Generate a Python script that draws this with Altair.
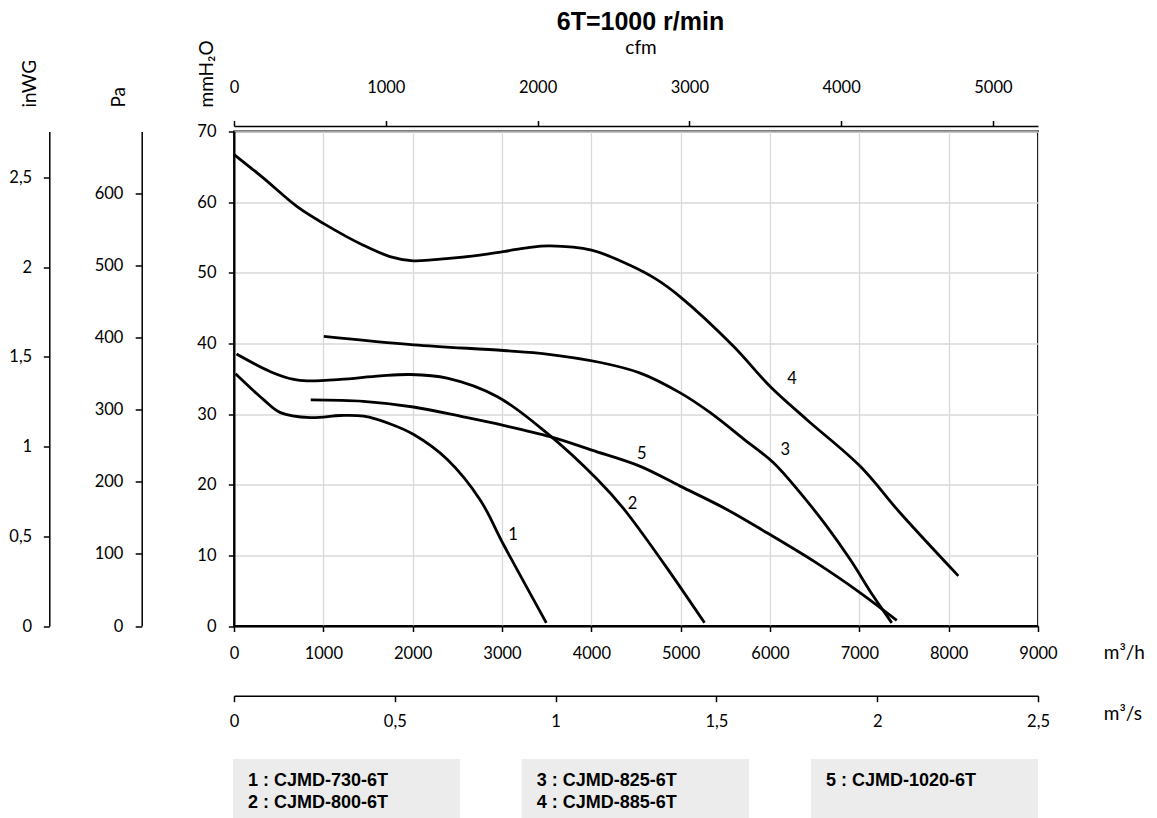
import altair as alt
import pandas as pd

# ---------------- data ----------------
# air flow in m3/h, static pressure in mmH2O
c1_q = [17, 334, 520, 856, 1191, 1452, 1751, 2012, 2385, 2758, 3018, 3496]
c1_p = [35.7, 32.0, 30.2, 29.5, 29.8, 29.7, 28.6, 27.1, 23.6, 17.8, 11.5, 0.45]

c2_q = [28, 408, 669, 819, 1191, 1639, 1974, 2385, 2944, 3504, 4063, 4361, 4808, 5267]
c2_p = [38.5, 36.0, 34.9, 34.7, 34.9, 35.4, 35.6, 35.1, 32.5, 27.3, 20.8, 16.6, 8.9, 0.45]

c3_q = [1005, 2011, 3016, 3501, 4103, 4548, 4995, 5331, 5703, 6039, 6341, 6636, 6898, 7158, 7363]
c3_p = [41.0, 39.8, 39.0, 38.5, 37.3, 35.8, 33.0, 30.2, 26.5, 23.1, 18.8, 14.1, 9.4, 4.2, 0.45]

c4_q = [5, 330, 703, 1000, 1447, 1745, 2006, 2379, 2752, 3013, 3311, 3535, 4002, 4427,
        4725, 4995, 5591, 6002, 6413, 7010, 7458, 8108]
c4_p = [66.7, 63.4, 59.4, 57.0, 53.9, 52.3, 51.7, 52.0, 52.5, 53.0, 53.6, 53.8, 53.2, 51.1,
        49.1, 46.6, 39.6, 33.9, 29.2, 22.6, 16.0, 7.1]

c5_q = [859, 1448, 2008, 2568, 3016, 3539, 4005, 4548, 4995, 5517, 5965, 6524, 7010, 7419]
c5_p = [32.0, 31.8, 31.0, 29.6, 28.4, 26.8, 24.9, 22.6, 19.8, 16.5, 13.2, 8.9, 4.7, 0.8]

curve_ids = ["1", "2", "3", "4", "5"]

# curve number labels (position in data units)
lbl_q = [3123, 4461, 6170, 6248, 4566]
lbl_p = [12.9, 17.2, 24.9, 35.0, 24.35]

# axis tick values
q_ticks = [0, 1000, 2000, 3000, 4000, 5000, 6000, 7000, 8000, 9000]
mm_ticks = [0, 10, 20, 30, 40, 50, 60, 70]
cfm_ticks = [0, 1000, 2000, 3000, 4000, 5000]
m3s_ticks = [0, 0.5, 1, 1.5, 2, 2.5]
pa_ticks = [0, 100, 200, 300, 400, 500, 600]
inwg_ticks = [0, 0.5, 1, 1.5, 2, 2.5]

legend_lines = ["1 : CJMD-730-6T", "2 : CJMD-800-6T", "3 : CJMD-825-6T",
                "4 : CJMD-885-6T", "5 : CJMD-1020-6T"]
legend_groups = [[0, 1], [2, 3], [4]]
title_text = "6T=1000 r/min"

# ranges / unit conversions
Q_MAX = 9000.0            # m3/h
P_MAX = 70.0              # mmH2O
CFM_MAX = Q_MAX * 0.588578
M3S_MAX = Q_MAX / 3600.0
PA_MAX = P_MAX * 9.80665
INWG_MAX = P_MAX / 25.4

# ---------------- layout ----------------
W, H = 804, 494.5
FONT = "Lato"
LFONT = "Liberation Sans"
NUM_EXPR = "replace(toString(datum.value), '.', ',')"

rows = []
for cid, qs, ps in zip(curve_ids, [c1_q, c2_q, c3_q, c4_q, c5_q], [c1_p, c2_p, c3_p, c4_p, c5_p]):
    for q, p in zip(qs, ps):
        rows.append({"curve": cid, "q": q, "p": p})
curves = pd.DataFrame(rows)
labels = pd.DataFrame({"lq": lbl_q, "lp": lbl_p, "name": curve_ids})


def xs():
    return alt.Scale(domain=[0, Q_MAX], nice=False, zero=False)


def ys():
    return alt.Scale(domain=[0, P_MAX], nice=False, zero=False)


lines = alt.Chart(curves).mark_line(
    color="black", strokeWidth=2.8, interpolate="catmull-rom"
).encode(
    x=alt.X("q:Q", scale=xs(), axis=alt.Axis(
        orient="bottom", values=q_ticks, format="d", grid=True,
        gridColor="#d9d9d9", gridWidth=1.3, domainWidth=2, tickSize=5.5,
        tickWidth=1.5, labelPadding=26.8, labelBaseline="alphabetic",
        title="m³/h", titleX=869.3, titleY=32, titleAlign="left",
        titleBaseline="alphabetic")),
    y=alt.Y("p:Q", scale=ys(), axis=alt.Axis(
        orient="left", values=mm_ticks, grid=True, gridColor="#d9d9d9",
        gridWidth=1.3, domainWidth=2, tickSize=5.7, tickWidth=1.5,
        labelPadding=12.3, title="mmH₂O", titleAngle=270, titleX=-22,
        titleY=-24.5, titleAlign="left", titleBaseline="alphabetic")),
    detail="curve:N",
)

curve_labels = alt.Chart(labels).mark_text(
    font=FONT, fontSize=16.5, color="black"
).encode(
    x=alt.X("lq:Q", scale=xs(), axis=None),
    y=alt.Y("lp:Q", scale=ys(), axis=None),
    text="name:N",
)

cfm_layer = alt.Chart(pd.DataFrame({"cfm": [0, CFM_MAX]})).mark_point(opacity=0).encode(
    x=alt.X("cfm:Q", scale=alt.Scale(domain=[0, CFM_MAX], nice=False, zero=False),
            axis=alt.Axis(orient="top", offset=5.5, values=cfm_ticks, format="d",
                          grid=False, domainWidth=1.5, tickSize=5.5, tickWidth=1.5,
                          labelPadding=27.8, labelBaseline="alphabetic",
                          title="cfm", titleX=406.5, titleY=-73, titleAlign="center",
                          titleBaseline="alphabetic"))
)

m3s_layer = alt.Chart(pd.DataFrame({"m3s": [0, M3S_MAX]})).mark_point(opacity=0).encode(
    x=alt.X("m3s:Q", scale=alt.Scale(domain=[0, M3S_MAX], nice=False, zero=False),
            axis=alt.Axis(orient="bottom", offset=69.7, values=m3s_ticks,
                          labelExpr=NUM_EXPR, grid=False, domainWidth=1.5,
                          tickSize=6, tickWidth=1.5, labelPadding=25,
                          labelBaseline="alphabetic", title="m³/s", titleX=869.3,
                          titleY=23.3, titleAlign="left", titleBaseline="alphabetic"))
)

pa_layer = alt.Chart(pd.DataFrame({"pa": [0, PA_MAX]})).mark_point(opacity=0).encode(
    y=alt.Y("pa:Q", scale=alt.Scale(domain=[0, PA_MAX], nice=False, zero=False),
            axis=alt.Axis(orient="left", offset=92.3, values=pa_ticks, grid=False,
                          domainWidth=1.5, tickSize=6.5, tickWidth=1.5,
                          labelPadding=12.3, title="Pa", titleAngle=270,
                          titleX=-17.7, titleY=-24.5, titleAlign="left",
                          titleBaseline="alphabetic"))
)

inwg_layer = alt.Chart(pd.DataFrame({"inwg": [0, INWG_MAX]})).mark_point(opacity=0).encode(
    y=alt.Y("inwg:Q", scale=alt.Scale(domain=[0, INWG_MAX], nice=False, zero=False),
            axis=alt.Axis(orient="left", offset=184.7, values=inwg_ticks,
                          labelExpr=NUM_EXPR, grid=False, domainWidth=1.5,
                          tickSize=6, tickWidth=1.5, labelPadding=11.6,
                          title="inWG", titleAngle=270, titleX=-14.3, titleY=-24.5,
                          titleAlign="left", titleBaseline="alphabetic"))
)

title_layer = alt.Chart(pd.DataFrame({"t": [title_text]})).mark_text(
    font=LFONT, fontSize=25, fontWeight="bold", color="black",
    align="center", baseline="alphabetic"
).encode(x=alt.value(406.5), y=alt.value(-102), text="t:N")

# legend boxes
box_x = [(-1, 226), (287.7, 515), (577, 804)]
box_layers = []
for (x0, x1), grp in zip(box_x, legend_groups):
    txt = "\n".join(legend_lines[i] for i in grp)
    d = pd.DataFrame({"t": [txt]})
    box_layers.append(
        alt.Chart(d).mark_rect(fill="#ececec").encode(
            x=alt.value(x0), x2=alt.value(x1), y=alt.value(627.5), y2=alt.value(690)))
    box_layers.append(
        alt.Chart(d).mark_text(font=LFONT, fontSize=18, fontWeight="bold",
                               color="black", align="left", baseline="alphabetic",
                               lineBreak="\n", lineHeight=21.5).encode(
            x=alt.value(x0 + 15), y=alt.value(654.5), text="t:N"))

chart = alt.layer(
    lines, curve_labels, cfm_layer, m3s_layer, pa_layer, inwg_layer, title_layer, *box_layers
).resolve_scale(
    x="independent", y="independent"
).properties(
    width=W, height=H,
    autosize=alt.AutoSizeParams(type="none"),
    padding={"left": 226, "top": 123.5, "right": 111, "bottom": 192},
).configure_view(
    stroke="black", strokeWidth=2
).configure_axis(
    labelFont=FONT, titleFont=FONT, labelFontSize=16.5, titleFontSize=19,
    labelColor="black", titleColor="black", titleFontWeight="normal",
    domainColor="black", tickColor="black", labelFlush=False, labelOverlap=False,
)

chart.save("out.html", embed_options={"renderer": "svg", "actions": False})
